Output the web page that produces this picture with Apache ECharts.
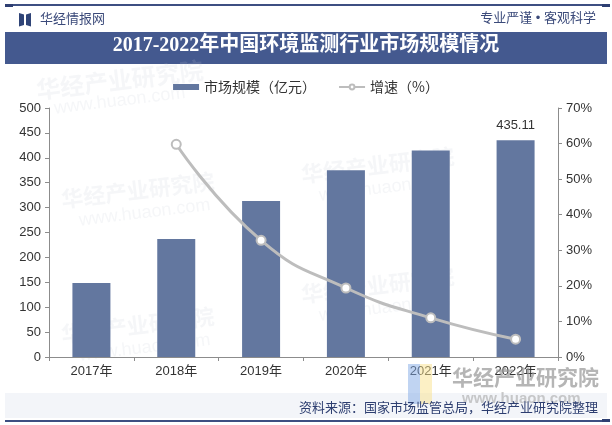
<!DOCTYPE html>
<html>
<head>
<meta charset="utf-8">
<script src="https://cdn.jsdelivr.net/npm/echarts@6/dist/echarts.min.js"></script>
<style>
html,body{margin:0;padding:0;background:#fff;}
#chart{width:612px;height:425px;}
</style>
</head>
<body>
<div id="chart"></div>
<script>
const categories = ['2017年','2018年','2019年','2020年','2021年','2022年'];
const marketSize = [148.5, 237, 313.5, 375, 414.5, 435.11];
const growthRate = [null, 59.8, 32.8, 19.4, 11.0, 5.0];
const leftTicks = {min: 0, max: 500, interval: 50};
const rightTicks = {min: 0, max: 70, interval: 10};
const titleText = '2017-2022年中国环境监测行业市场规模情况';
const sourceText = '资料来源：国家市场监管总局，华经产业研究院整理';
const seriesNames = ['市场规模（亿元）', '增速（%）'];

const CJK = '"Noto Sans CJK SC", "Noto Sans", sans-serif';
const chart = echarts.init(document.getElementById('chart'), null, {renderer: 'canvas'});

const wm = (x, y, big) => ([
  {type:'text', left:x, top:y, rotation: 0.12, z:0, style:{text:'华经产业研究院', font:'bold ' + (big?24:22) + 'px ' + CJK, fill:'rgba(190,198,212,0.16)'}},
  {type:'text', left:x+18, top:y+26, rotation: 0.12, z:0, style:{text:'www.huaon.com', font:'18px Arial', fill:'rgba(190,198,212,0.16)'}}
]);

const graphics = [
  // top line
  {type:'rect', shape:{x:5, y:4, width:602, height:2}, style:{fill:'#3d4f82'}},
  {type:'rect', shape:{x:5, y:4, width:8, height:3}, style:{fill:'#2e3f72'}},
  {type:'rect', shape:{x:602, y:4, width:8, height:3}, style:{fill:'#2e3f72'}},
  // logo
  {type:'polygon', shape:{points:[[19,13],[24,14.5],[24,25],[19,26.5]]}, style:{fill:'#2f4477'}},
  {type:'polygon', shape:{points:[[26,14.5],[31,13],[31,26.5],[26,25]]}, style:{fill:'#2f4477'}},
  {type:'text', left:40, top:12, style:{text:'华经情报网', font:'13px ' + CJK, fill:'#3b4a7a'}},
  {type:'text', right:16, top:12, style:{text:'专业严谨 • 客观科学', font:'13px "Liberation Sans", ' + CJK, fill:'#3b4a7a'}},
  // title bar
  {type:'rect', shape:{x:5, y:32, width:602, height:32}, style:{fill:'#44598f'}},
  {type:'text', left:'center', top:36, style:{text:titleText, font:'bold 20px "Liberation Serif", "Noto Sans CJK SC", serif', fill:'#ffffff'}},
  // footer band
  {type:'rect', shape:{x:5, y:393, width:602, height:25}, style:{fill:'#f3f5f9'}},
  {type:'rect', shape:{x:5, y:420, width:602, height:2}, style:{fill:'#3d4f82'}},
  {type:'rect', shape:{x:602, y:419, width:8, height:3}, style:{fill:'#2e3f72'}},
  // bottom-right watermark logo
  {type:'rect', shape:{x:408, y:364, width:12, height:40}, z:1, style:{fill:'rgba(130,170,230,0.5)'}},
  {type:'rect', shape:{x:420, y:364, width:12, height:40}, z:1, style:{fill:'rgba(250,225,140,0.5)'}},
  {type:'text', left:452, top:367, z:1, style:{text:'华经产业研究院', font:'bold 21px ' + CJK, fill:'rgba(150,150,150,0.7)'}},
  {type:'text', left:462, top:391, z:1, style:{text:'www.huaon.com', font:'bold 15px Arial', fill:'rgba(160,160,160,0.55)'}},
  {type:'text', right:14, top:401, z:2, style:{text:sourceText, font:'13px ' + CJK, fill:'#2d3e70'}}
].concat(wm(35, 58, true), wm(60, 170, false), wm(300, 145, false), wm(60, 305, false), wm(300, 265, false));

chart.setOption({
  animation: false,
  backgroundColor: '#ffffff',
  graphic: graphics,
  legend: {
    top: 75, left: 'center', itemGap: 22,
    itemWidth: 26, itemHeight: 6,
    textStyle: {fontSize: 14, color: '#333', fontFamily: CJK},
    data: [
      {name: seriesNames[0], icon: 'rect'},
      {name: seriesNames[1]}
    ]
  },
  grid: {left: 49, right: 54, top: 108, bottom: 68, containLabel: false},
  xAxis: {
    type: 'category', data: categories,
    axisLine: {lineStyle: {color: '#8c8c8c'}},
    axisTick: {show: true, alignWithLabel: false, length: 4, lineStyle: {color: '#8c8c8c'}},
    axisLabel: {color: '#333', fontSize: 13, fontFamily: 'Arial, ' + CJK, margin: 8}
  },
  yAxis: [
    {
      type: 'value', min: leftTicks.min, max: leftTicks.max, interval: leftTicks.interval,
      axisLine: {show: true, lineStyle: {color: '#8c8c8c'}},
      axisTick: {show: true, length: 4, lineStyle: {color: '#8c8c8c'}},
      axisLabel: {color: '#333', fontSize: 13, fontFamily: 'Arial', margin: 8},
      splitLine: {show: false}
    },
    {
      type: 'value', min: rightTicks.min, max: rightTicks.max, interval: rightTicks.interval,
      axisLine: {show: true, lineStyle: {color: '#8c8c8c'}},
      axisTick: {show: true, length: 4, lineStyle: {color: '#8c8c8c'}},
      axisLabel: {color: '#333', fontSize: 13, fontFamily: 'Arial', margin: 8, formatter: '{value}%'},
      splitLine: {show: false}
    }
  ],
  series: [
    {
      name: seriesNames[0], type: 'bar', yAxisIndex: 0, barWidth: 38, z: 3,
      itemStyle: {color: '#63779f'},
      data: marketSize.map((v, i) => i === marketSize.length - 1
        ? {value: v, label: {show: true, position: 'top', distance: 8, color: '#333', fontSize: 13, fontFamily: 'Arial'}}
        : v)
    },
    {
      name: seriesNames[1], type: 'line', yAxisIndex: 1, smooth: true, z: 4,
      symbol: 'circle', symbolSize: 9,
      lineStyle: {color: '#bdbdbd', width: 3},
      itemStyle: {color: '#ffffff', borderColor: '#bdbdbd', borderWidth: 2},
      data: growthRate
    }
  ]
});
</script>
</body>
</html>
